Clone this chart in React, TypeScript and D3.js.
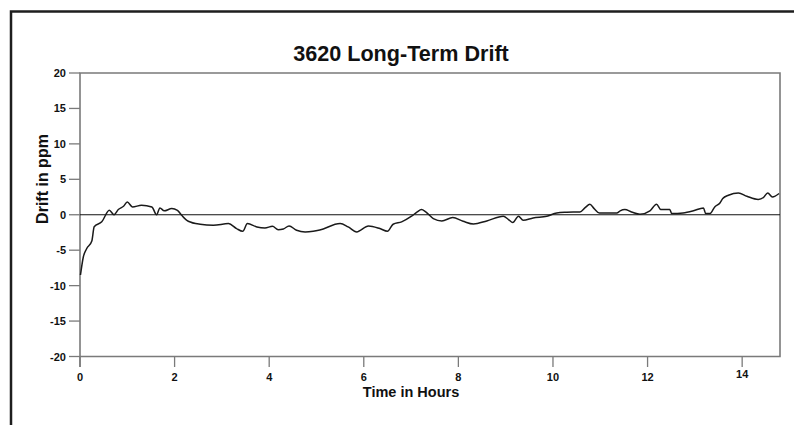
import React from "react";
import * as d3 from "d3";

const hours: number[] = [
  0.01, 0.07, 0.14, 0.25, 0.3, 0.46, 0.62, 0.72, 0.81, 0.92, 1.0, 1.11, 1.3, 1.52, 1.62, 1.69, 1.78, 1.94,
  2.06, 2.15, 2.29, 2.54, 2.82, 3.14, 3.31, 3.44, 3.54, 3.74, 3.91, 4.07, 4.19, 4.3, 4.42, 4.58, 4.76, 4.93,
  5.07, 5.5, 5.67, 5.85, 6.1, 6.34, 6.5, 6.62, 6.8, 7.01, 7.13, 7.22, 7.31, 7.47, 7.65, 7.88, 8.1, 8.32,
  8.6, 8.95, 9.06, 9.15, 9.27, 9.37, 9.58, 9.87, 10.08, 10.29, 10.57, 10.68, 10.78, 10.87, 10.98, 11.35,
  11.42, 11.52, 11.66, 11.84, 12.05, 12.19, 12.28, 12.47, 12.51, 12.75, 12.97, 13.18, 13.23, 13.32, 13.42,
  13.53, 13.59, 13.71, 13.92, 14.1, 14.34, 14.45, 14.54, 14.64, 14.78,
];
const driftPpm: number[] = [
  -8.5, -5.96, -4.8, -3.7, -1.7, -1.0, 0.63, 0.0, 0.73, 1.2, 1.8, 1.1, 1.34, 1.1, 0.0, 0.96, 0.55, 0.87,
  0.63, -0.07, -0.92, -1.34, -1.48, -1.25, -1.95, -2.33, -1.25, -1.72, -1.86, -1.63, -2.1, -2.0, -1.58, -2.19, -2.42, -2.33,
  -2.15, -1.25, -1.72, -2.42, -1.58, -1.95, -2.33, -1.34, -1.0, -0.21, 0.4, 0.73, 0.4, -0.54, -0.87, -0.4, -0.92, -1.3,
  -0.87, -0.21, -0.68, -1.1, -0.21, -0.78, -0.45, -0.21, 0.25, 0.35, 0.4, 1.0, 1.48, 0.87, 0.25, 0.25,
  0.55, 0.73, 0.4, 0.07, 0.55, 1.48, 0.73, 0.73, 0.17, 0.25, 0.55, 0.96, 0.17, 0.17, 1.1,
  1.67, 2.29, 2.75, 3.08, 2.61, 2.15, 2.43, 3.08, 2.51, 3.0,
];
const xTicks: number[] = [0, 2, 4, 6, 8, 10, 12, 14];
const yTicks: number[] = [20, 15, 10, 5, 0, -5, -10, -15, -20];
const titleText = "3620 Long-Term Drift";
const xLabel = "Time in Hours";
const yLabel = "Drift in ppm";

const W = 794;
const H = 425;
const L = 80, R = 780, T = 73, B = 356.5;
const FONT = "'Liberation Sans', Arial, sans-serif";

export default function App() {
  const x = d3.scaleLinear().domain([0, 14.8]).range([L, R]);
  const y = d3.scaleLinear().domain([-20, 20]).range([B, T]);
  const pts = hours.map((h, i) => [h, driftPpm[i]] as [number, number]);
  const line = d3
    .line<[number, number]>()
    .x((d) => x(d[0]))
    .y((d) => y(d[1]))
    .curve(d3.curveMonotoneX);
  const axisColor = "#7a7a7a";
  return (
    <svg
      width={W}
      height={H}
      style={{ position: "absolute", left: 0, top: 0, background: "#fff" }}
      fontFamily={FONT}
    >
      <rect x={0} y={0} width={W} height={H} fill="#fff" />
      {/* outer frame */}
      <path d={`M11,${H} V11.5 H${W}`} fill="none" stroke="#1e1e1e" strokeWidth={2.5} />
      {/* title */}
      <text x={401} y={61} textAnchor="middle" fontSize={21.6} fontWeight="bold" fill="#111">
        {titleText}
      </text>
      {/* plot box */}
      <path d={`M${L},${B + 10.5} V${T} H${R} V${B} H${L}`} fill="none" stroke={axisColor} strokeWidth={1.6} />
      {/* y ticks */}
      {yTicks.map((t) => (
        <g key={t}>
          <line x1={L - 11} x2={L} y1={y(t)} y2={y(t)} stroke={axisColor} strokeWidth={1.3} />
          <text x={L - 14} y={y(t) + 4} textAnchor="end" fontSize={11} fontWeight="bold" fill="#111">
            {t}
          </text>
        </g>
      ))}
      {/* x ticks */}
      {xTicks.map((t) => (
        <g key={t}>
          <line x1={x(t)} x2={x(t)} y1={B} y2={B + 10.5} stroke={axisColor} strokeWidth={1.3} />
          <text x={x(t)} y={t === 14 ? 378 : 381} textAnchor="middle" fontSize={11} fontWeight="bold" fill="#111">
            {t}
          </text>
        </g>
      ))}
      {/* zero line */}
      <line x1={L} x2={R} y1={y(0)} y2={y(0)} stroke="#111" strokeWidth={1.1} />
      {/* data */}
      <path d={line(pts) || ""} fill="none" stroke="#1a1a1a" strokeWidth={1.5} strokeLinejoin="round" />
      {/* axis labels */}
      <text x={411} y={397} textAnchor="middle" fontSize={14.5} fontWeight="bold" fill="#111">
        {xLabel}
      </text>
      <text
        transform={`translate(48,179) rotate(-90)`}
        textAnchor="middle"
        fontSize={16}
        fontWeight="bold"
        fill="#111"
      >
        {yLabel}
      </text>
    </svg>
  );
}
